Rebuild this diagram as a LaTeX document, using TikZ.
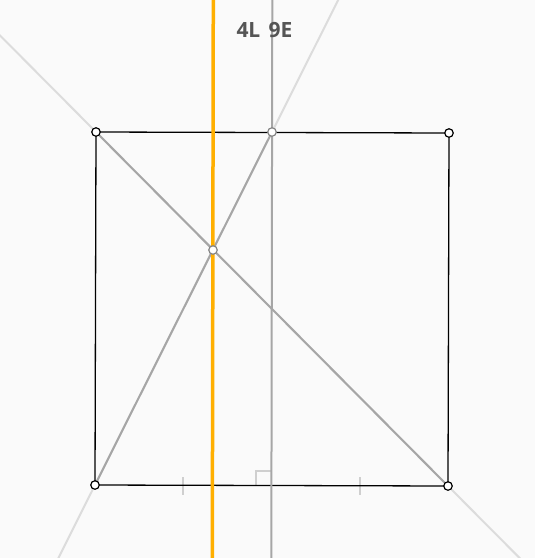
\documentclass[tikz,border=0pt]{standalone}
\usepackage{fontspec}
\setmainfont{Open Sans}
\usetikzlibrary{calc}
\definecolor{bgc}{HTML}{FAFAFA}
\definecolor{seg}{HTML}{A6A6A6}
\definecolor{ext}{HTML}{DCDCDC}
\definecolor{orng}{HTML}{FFAF00}
\definecolor{lbl}{HTML}{555555}
\definecolor{tickc}{HTML}{CFCFCF}
\tikzset{
  sqline/.style={draw=black, line width=1.3pt},
  segline/.style={draw=seg, line width=2pt},
  extline/.style={draw=ext, line width=2pt},
  orline/.style={draw=orng, line width=3.5pt},
  markline/.style={draw=tickc, line width=2pt},
  vtx/.style={circle, draw=black, fill=white, line width=1.2pt, inner sep=0pt, minimum size=8.5pt},
  gvtx/.style={circle, draw=seg!80!black, fill=white, line width=1.2pt, inner sep=0pt, minimum size=8.5pt},
  lab/.style={font=\bfseries\fontsize{21}{24}\selectfont, text=lbl, inner sep=0pt}
}
\begin{document}
\begin{tikzpicture}[x=1pt,y=-1pt]
\fill[bgc] (0,0) rectangle (535,558);
\useasboundingbox (0,0) rectangle (535,558);
\clip (0,0) rectangle (535,558);
% points
\coordinate (A) at (96,132);
\coordinate (B) at (272,132);
\coordinate (C) at (449,133);
\coordinate (D) at (448,486);
\coordinate (E) at (95,485);
\coordinate (F) at (213,250);
\coordinate (H) at (272,486);
\coordinate (ADs) at ($(A)!-0.3!(D)$);
\coordinate (ADe) at ($(A)!1.3!(D)$);
\coordinate (EBs) at ($(E)!-0.3!(B)$);
\coordinate (EBe) at ($(E)!1.45!(B)$);
\coordinate (Vt) at (272.3,-5);
\coordinate (Vb) at (271.3,565);
\coordinate (Ot) at (213.3,-5);
\coordinate (Ob) at (212.3,565);
\coordinate (T1) at (183,486);
\coordinate (T2) at (360,486);
% extensions
\draw[extline] (ADs) -- (ADe);
\draw[extline] (EBs) -- (EBe);
% marks
\draw[markline] ($(T1)+(0,-9)$) -- ($(T1)+(0,9)$);
\draw[markline] ($(T2)+(0,-9)$) -- ($(T2)+(0,9)$);
\draw[markline] ($(H)+(-16,0)$) -- ($(H)+(-16,-15)$) -- ($(H)+(0,-15)$);
% square
\draw[sqline] (A) -- (C) -- (D) -- (E) -- cycle;
% segments
\draw[segline] (A) -- (D);
\draw[segline] (E) -- (B);
\draw[segline] (Vt) -- (Vb);
\draw[orline] (Ot) -- (Ob);
% label
\node[lab] (L) at (264.5,30) {4L\hspace{0.4em}9E};
% vertices
\node[vtx] (nA) at (A) {};
\node[vtx] (nC) at (C) {};
\node[vtx] (nD) at (D) {};
\node[vtx] (nE) at (E) {};
\node[gvtx] (nB) at (B) {};
\node[gvtx] (nF) at (F) {};
\end{tikzpicture}
\end{document}
